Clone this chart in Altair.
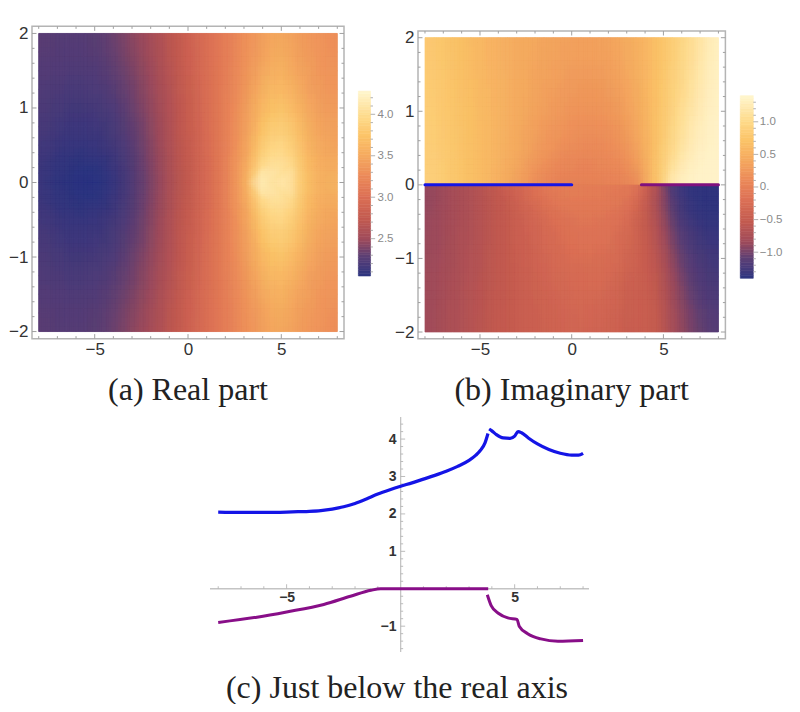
import altair as alt
import numpy as np
import pandas as pd

CAPTIONS = ["(a) Real part", "(b) Imaginary part", "(c) Just below the real axis"]

# heat-map cells: 32 columns, half-plane rows (the other half mirrors)
X_EDGES = [-8 + 0.5 * i for i in range(33)]
Y_EDGES = [0, 0.125, 0.25, 0.375, 0.5, 0.75, 1, 1.25, 1.5, 1.75, 2]

RE_ROWS = [
 [2.12,2.09,2.07,2.06,2.05,2.05,2.06,2.09,2.13,2.2,2.28,2.35,2.44,2.53,2.62,2.72,2.8,2.9,3.0,3.12,3.25,3.42,3.65,4.15,4.12,4.05,4.14,3.95,3.75,3.62,3.55,3.58],
 [2.13,2.10,2.08,2.07,2.06,2.06,2.07,2.10,2.14,2.21,2.28,2.36,2.45,2.54,2.63,2.72,2.8,2.9,3.0,3.12,3.25,3.41,3.6,3.95,4.05,4.06,4.04,3.92,3.72,3.61,3.55,3.55],
 [2.14,2.11,2.09,2.08,2.07,2.08,2.09,2.11,2.16,2.22,2.29,2.37,2.45,2.54,2.63,2.73,2.81,2.91,3.01,3.12,3.25,3.4,3.56,3.85,3.98,4.02,4.0,3.88,3.7,3.59,3.53,3.52],
 [2.15,2.13,2.11,2.10,2.09,2.10,2.11,2.13,2.17,2.23,2.30,2.37,2.46,2.55,2.64,2.73,2.82,2.92,3.01,3.12,3.24,3.38,3.53,3.8,3.93,3.98,3.95,3.84,3.68,3.57,3.51,3.5],
 [2.17,2.15,2.13,2.12,2.12,2.12,2.13,2.16,2.2,2.25,2.32,2.39,2.47,2.56,2.65,2.74,2.82,2.92,3.01,3.12,3.23,3.36,3.5,3.72,3.85,3.9,3.88,3.78,3.64,3.53,3.48,3.46],
 [2.2,2.18,2.16,2.15,2.15,2.15,2.17,2.19,2.23,2.29,2.35,2.41,2.49,2.58,2.66,2.75,2.84,2.93,3.02,3.12,3.22,3.34,3.47,3.62,3.74,3.79,3.77,3.68,3.57,3.48,3.44,3.42],
 [2.22,2.2,2.19,2.18,2.18,2.19,2.2,2.23,2.27,2.32,2.38,2.44,2.51,2.59,2.68,2.76,2.85,2.94,3.03,3.12,3.21,3.31,3.43,3.55,3.65,3.7,3.68,3.6,3.5,3.44,3.4,3.38],
 [2.24,2.23,2.22,2.21,2.21,2.22,2.24,2.26,2.3,2.35,2.4,2.46,2.53,2.61,2.69,2.78,2.87,2.95,3.03,3.11,3.2,3.29,3.39,3.48,3.58,3.62,3.6,3.53,3.46,3.4,3.37,3.35],
 [2.26,2.25,2.24,2.24,2.24,2.25,2.26,2.29,2.33,2.38,2.43,2.49,2.55,2.63,2.71,2.79,2.88,2.96,3.04,3.11,3.19,3.27,3.36,3.43,3.52,3.55,3.54,3.47,3.42,3.38,3.35,3.33],
 [2.28,2.27,2.26,2.26,2.26,2.27,2.29,2.32,2.36,2.41,2.46,2.51,2.58,2.65,2.73,2.8,2.89,2.97,3.04,3.11,3.18,3.25,3.33,3.4,3.47,3.49,3.48,3.44,3.39,3.36,3.33,3.31],
]
IM_ROWS = [
 [.88,.85,.8,.76,.72,.67,.61,.55,.48,.4,.32,.22,.14,.08,.04,.02,.02,.02,.03,.04,.05,.06,.08,.25,.6,.75,1.15,1.28,1.34,1.36,1.37,1.37],
 [.88,.85,.8,.76,.72,.67,.62,.56,.5,.43,.35,.26,.18,.12,.08,.06,.05,.05,.06,.07,.08,.1,.16,.32,.6,.78,1.08,1.22,1.3,1.35,1.37,1.37],
 [.87,.84,.8,.76,.72,.67,.62,.57,.51,.45,.38,.3,.23,.17,.12,.1,.08,.08,.08,.09,.11,.14,.22,.38,.6,.78,1.0,1.16,1.27,1.33,1.36,1.37],
 [.86,.84,.8,.76,.72,.67,.62,.57,.52,.46,.4,.33,.27,.21,.16,.13,.11,.1,.11,.12,.14,.18,.27,.42,.6,.78,.96,1.12,1.24,1.31,1.35,1.37],
 [.86,.83,.79,.75,.71,.67,.62,.57,.52,.47,.42,.36,.3,.25,.21,.17,.15,.14,.14,.15,.18,.23,.32,.45,.6,.76,.92,1.07,1.2,1.28,1.33,1.36],
 [.85,.82,.78,.74,.7,.66,.61,.57,.52,.48,.43,.38,.34,.29,.25,.22,.2,.19,.19,.2,.23,.29,.37,.48,.61,.75,.88,1.02,1.15,1.24,1.31,1.35],
 [.84,.81,.77,.73,.69,.65,.61,.56,.52,.48,.44,.4,.36,.32,.29,.26,.24,.23,.23,.25,.28,.33,.41,.5,.62,.74,.86,.98,1.1,1.2,1.28,1.34],
 [.83,.8,.76,.72,.68,.64,.6,.56,.52,.48,.45,.41,.38,.35,.32,.3,.28,.27,.27,.29,.32,.37,.44,.52,.62,.73,.84,.95,1.06,1.17,1.26,1.33],
 [.82,.79,.75,.71,.67,.63,.59,.55,.51,.48,.45,.42,.39,.37,.35,.33,.31,.31,.31,.33,.36,.4,.47,.54,.63,.72,.82,.93,1.04,1.14,1.24,1.32],
 [.81,.78,.74,.7,.66,.62,.58,.54,.51,.48,.45,.43,.41,.39,.37,.35,.34,.34,.35,.36,.39,.43,.49,.55,.63,.72,.81,.91,1.02,1.12,1.22,1.31],
]
# lower half-plane of (b), columns from x = 3.5 to x = 8
IM_LOWER_RIGHT = [
 [-.25,-.55,-.75,-1.1,-1.25,-1.33,-1.36,-1.37,-1.37],
 [-.35,-.58,-.78,-1.05,-1.22,-1.31,-1.35,-1.37,-1.37],
 [-.4,-.58,-.78,-1.02,-1.2,-1.3,-1.34,-1.36,-1.37],
 [-.44,-.58,-.76,-.99,-1.17,-1.27,-1.32,-1.35,-1.36],
 [-.46,-.56,-.72,-.93,-1.1,-1.22,-1.28,-1.32,-1.34],
 [-.44,-.52,-.66,-.86,-1.02,-1.14,-1.21,-1.26,-1.29],
 [-.43,-.5,-.62,-.8,-.95,-1.08,-1.16,-1.22,-1.25],
 [-.42,-.48,-.58,-.76,-.9,-1.03,-1.12,-1.18,-1.22],
 [-.42,-.46,-.56,-.72,-.87,-.98,-1.07,-1.14,-1.18],
 [-.42,-.45,-.54,-.7,-.84,-.94,-1.02,-1.09,-1.13],
]

# curves of panel (c)
BLUE_X1 = [-8,-7,-6,-5,-4.5,-4,-3.5,-3,-2.5,-2,-1.5,-1,-.5,0,.5,1,1.5,2,2.5,3,3.3,3.5,3.7,3.83]
BLUE_Y1 = [2.05,2.04,2.04,2.05,2.06,2.07,2.09,2.13,2.19,2.28,2.4,2.53,2.64,2.74,2.83,2.93,3.03,3.14,3.27,3.43,3.57,3.7,3.9,4.15]
BLUE_X2 = [3.88,4.0,4.2,4.5,4.8,5.0,5.15,5.3,5.6,6,6.5,7,7.5,7.8,8]
BLUE_Y2 = [4.27,4.22,4.12,4.03,4.02,4.08,4.2,4.17,4.03,3.87,3.72,3.62,3.57,3.57,3.62]
PURPLE_X1 = [-8,-6.3,-5,-3.37,-2.2,-1.3,-.88,3.84]
PURPLE_Y1 = [-.9,-.76,-.62,-.42,-.2,-.04,0,0]
PURPLE_X2 = [3.8,3.97,4.3,4.7,5.1,5.2,5.57,6.15,6.9,8]
PURPLE_Y2 = [-.16,-.45,-.66,-.78,-.82,-1.0,-1.2,-1.34,-1.4,-1.38]

# colour map
STOPS = [0,.05,.11,.2,.31,.43,.54,.65,.76,.87,1]
COLORS = ["#2b3480","#443a7b","#5d3f74","#9f4b5b","#c35a50","#dc7055","#ec8a59","#f5a95f","#fcc468","#fedc8e","#fff6cf"]
RE_RANGE = (2.05, 4.28)
IM_RANGE = (-1.4, 1.4)

FRAME_C = "#b4b4b4"
TICK_C = "#a0a0a0"
LABEL_C = "#333333"
SANS = "Liberation Sans"
SERIF = "Liberation Serif"
CAPTION_SIZE = 32
SHIFTS = [0.0, -0.25, 0.25, 0.125, -0.125, 0.375, -0.375]


def cscale(lo, hi):
    return alt.Scale(domain=[lo + t * (hi - lo) for t in STOPS], range=COLORS, interpolate="rgb")


def shifted(edges, s):
    out = list(edges)
    for i in range(1, len(edges) - 1):
        out[i] = edges[i] + s * (edges[i + 1] - edges[i - 1])
    return out


def heat_df(rows, lower, s):
    xe = shifted(X_EDGES, s)
    ye = shifted(Y_EDGES, s)
    recs = []
    for j, row in enumerate(rows):
        for i, v in enumerate(row):
            recs.append(dict(x0=xe[i], x1=xe[i + 1], y0=ye[j], y1=ye[j + 1], v=v))
            recs.append(dict(x0=xe[i], x1=xe[i + 1], y0=-ye[j], y1=-ye[j + 1], v=lower(j, i, v)))
    return pd.DataFrame(recs)


def lower_re(j, i, v):
    return v


def lower_im(j, i, v):
    return IM_LOWER_RIGHT[j][i - 23] if i >= 23 else -v


def frame_ticks(fx, fy, pxx, pxy):
    recs = []
    for t in range(-8, 9):
        ln = (4.5 if t % 5 == 0 else 2.5) / pxy
        recs += [dict(x0=t, x1=t, y0=-fy, y1=-fy + ln), dict(x0=t, x1=t, y0=fy, y1=fy - ln)]
    for k in range(-10, 11):
        t = k / 5
        ln = (4.5 if k % 5 == 0 else 2.5) / pxx
        recs += [dict(x0=-fx, x1=-fx + ln, y0=t, y1=t), dict(x0=fx, x1=fx - ln, y0=t, y1=t)]
    return recs


def panel(rows, lower, rng, xdom, ydom, fx, fy, w, h, pxx, pxy, caption, title_offset, extra=None):
    xs = alt.Scale(domain=xdom, nice=False, zero=False)
    ys = alt.Scale(domain=ydom, nice=False, zero=False)
    cs = cscale(*rng)
    xa = alt.Axis(values=[-5, 0, 5], ticks=False, domain=False, grid=False,
                  labelFont=SANS, labelFontSize=17, labelColor=LABEL_C, labelPadding=2)
    ya = alt.Axis(values=[-2, -1, 0, 1, 2], format="d", ticks=False, domain=False, grid=False,
                  labelFont=SANS, labelFontSize=17, labelColor=LABEL_C, labelPadding=4)
    X = lambda f: alt.X(f, scale=xs, title=None, axis=xa)
    Y = lambda f: alt.Y(f, scale=ys, title=None, axis=ya)
    layers = []
    for k, s in enumerate(SHIFTS):
        m = dict(strokeWidth=0.7) if k == 0 else dict(opacity=1.0 / (k + 1))
        e = dict(x=X("x0:Q"), x2="x1:Q", y=Y("y0:Q"), y2="y1:Q", color=alt.Color("v:Q", scale=cs, legend=None))
        if k == 0:
            e["stroke"] = alt.Stroke("v:Q", scale=cs, legend=None)
        layers.append(alt.Chart(heat_df(rows, lower, s)).mark_rect(**m).encode(**e))
    frame = alt.Chart(pd.DataFrame([dict(x0=-fx, x1=fx, y0=-fy, y1=fy)])).mark_rect(
        fill="transparent", stroke=FRAME_C, strokeWidth=1.5).encode(x=X("x0:Q"), x2="x1:Q", y=Y("y0:Q"), y2="y1:Q")
    ticks = alt.Chart(pd.DataFrame(frame_ticks(fx, fy, pxx, pxy))).mark_rule(color=TICK_C, strokeWidth=1).encode(
        x=X("x0:Q"), x2="x1:Q", y=Y("y0:Q"), y2="y1:Q")
    layers += [frame, ticks]
    if extra:
        layers += extra(X, Y)
    return alt.layer(*layers).properties(
        width=w, height=h,
        title=alt.TitleParams(caption, orient="bottom", anchor="middle", font=SERIF, fontSize=CAPTION_SIZE,
                              fontWeight="normal", color="#222222", offset=title_offset))


def cbar(rng, xdom, ydom, w, h, major, minor, label_expr, axis_offset):
    xs = alt.Scale(domain=xdom, nice=False, zero=False)
    ys = alt.Scale(domain=ydom, nice=False, zero=False)
    edges = np.linspace(rng[0], rng[1], 71)
    df = pd.DataFrame(dict(x0=0.0, x1=1.0, y0=edges[:-1], y1=edges[1:], v=(edges[:-1] + edges[1:]) / 2))
    cs = cscale(*rng)
    ya = alt.Axis(orient="right", offset=axis_offset, values=major, ticks=False,
                  domain=False, grid=False, labelExpr=label_expr, labelFont=SANS, labelFontSize=11.5,
                  labelColor="#8a8a8a", labelPadding=6)
    bar = alt.Chart(df).mark_rect(strokeWidth=0.6).encode(
        x=alt.X("x0:Q", scale=xs, axis=None), x2="x1:Q",
        y=alt.Y("y0:Q", scale=ys, title=None, axis=ya), y2="y1:Q",
        color=alt.Color("v:Q", scale=cs, legend=None),
        stroke=alt.Stroke("v:Q", scale=cs, legend=None),
    )
    recs = [dict(x0=1, x1=1.38, y0=t, y1=t) for t in major]
    recs += [dict(x0=1, x1=1.2, y0=t, y1=t) for t in minor]
    rules = alt.Chart(pd.DataFrame(recs)).mark_rule(color="#a8a8a8", strokeWidth=0.9).encode(
        x=alt.X("x0:Q", scale=xs, axis=None), x2="x1:Q",
        y=alt.Y("y0:Q", scale=ys, title=None, axis=ya), y2="y1:Q")
    return alt.layer(bar, rules).properties(width=w, height=h)


def line_marks(X, Y):
    seg1 = pd.DataFrame(dict(x=[-8, 0], y=[0, 0]))
    seg2 = pd.DataFrame(dict(x=[3.8, 8], y=[0, 0]))
    a = alt.Chart(seg1).mark_line(color="#1414e6", strokeWidth=3, strokeCap="round").encode(x=X("x:Q"), y=Y("y:Q"))
    b = alt.Chart(seg2).mark_line(color="#80107e", strokeWidth=3, strokeCap="round").encode(x=X("x:Q"), y=Y("y:Q"))
    return [a, b]


# panel (a)
pa = panel(RE_ROWS, lower_re, RE_RANGE, [-8.36, 8.36], [-2.1, 2.1], 8.36, 2.095, 312, 313, 18.67, 74.6, CAPTIONS[0], 18)
ca = cbar(RE_RANGE, [-1.18, 4.9], [1.29, 5.065], 74, 313,
          [2.5, 3.0, 3.5, 4.0],
          [2.1, 2.2, 2.3, 2.4, 2.6, 2.7, 2.8, 2.9, 3.1, 3.2, 3.3, 3.4, 3.6, 3.7, 3.8, 3.9, 4.1, 4.2],
          "format(datum.value, '.1f')", -47)
# panel (b)
pb = panel(IM_ROWS, lower_im, IM_RANGE, [-8.38, 8.38], [-2.095, 2.159], 8.38, 2.091, 307.4, 313, 18.33, 73.6, CAPTIONS[1], 18, extra=line_marks)
cb = cbar(IM_RANGE, [-1.1, 3.52], [-2.331, 2.469], 60, 313,
          [-1.0, -0.5, 0, 0.5, 1.0],
          [-1.3, -1.2, -1.1, -.9, -.8, -.7, -.6, -.4, -.3, -.2, -.1, .1, .2, .3, .4, .6, .7, .8, .9, 1.1, 1.2, 1.3],
          "datum.value === 0 ? '0.' : format(datum.value, '.1f')", -32.7)

# panel (c)
cx = alt.Scale(domain=[-8.36, 8.26], range=[178, 557], nice=False, zero=False)
cy = alt.Scale(domain=[-1.69, 4.59], nice=False, zero=False)
cxa = alt.Axis(values=[-5, 5], offset=-63.3, ticks=False, domain=False, grid=False,
               labelFont=SANS, labelFontSize=14, labelFontWeight="bold", labelColor=LABEL_C, labelPadding=2)
cya = alt.Axis(values=[-1, 1, 2, 3, 4], format="d", offset=-369, ticks=False, domain=False, grid=False,
               labelFont=SANS, labelFontSize=14, labelFontWeight="bold", labelColor=LABEL_C, labelPadding=5)
CX = lambda f: alt.X(f, scale=cx, title=None, axis=cxa)
CY = lambda f: alt.Y(f, scale=cy, title=None, axis=cya)
curve = pd.concat([
    pd.DataFrame(dict(x=BLUE_X1, y=BLUE_Y1, s="b1")),
    pd.DataFrame(dict(x=BLUE_X2, y=BLUE_Y2, s="b2")),
])
curve2 = pd.concat([
    pd.DataFrame(dict(x=PURPLE_X1, y=PURPLE_Y1, s="p1")),
    pd.DataFrame(dict(x=PURPLE_X2, y=PURPLE_Y2, s="p2")),
])
axes_recs = [dict(x0=-8.36, x1=8.26, y0=0, y1=0), dict(x0=0, x1=0, y0=-1.69, y1=4.59)]
tick_recs = []
for t in range(-8, 9):
    if t != 0:
        tick_recs.append(dict(x0=t, x1=t, y0=0, y1=(4.5 if t % 5 == 0 else 2.5) / 37.4))
for k in range(-8, 23):
    if k != 0:
        tick_recs.append(dict(x0=0, x1=(4.5 if k % 5 == 0 else 2.5) / 22.76, y0=k / 5, y1=k / 5))
c_base = alt.Chart(pd.DataFrame(axes_recs)).mark_rule(color="#c4c4c4", strokeWidth=1.3).encode(
    x=CX("x0:Q"), x2="x1:Q", y=CY("y0:Q"), y2="y1:Q")
c_ticks = alt.Chart(pd.DataFrame(tick_recs)).mark_rule(color="#b4b4b4", strokeWidth=0.9).encode(
    x=CX("x0:Q"), x2="x1:Q", y=CY("y0:Q"), y2="y1:Q")
c_blue = alt.Chart(curve).mark_line(color="#1414e6", strokeWidth=3.2, interpolate="monotone").encode(
    x=CX("x:Q"), y=CY("y:Q"), detail="s:N")
c_purple = alt.Chart(curve2).mark_line(color="#880e88", strokeWidth=3, interpolate="monotone").encode(
    x=CX("x:Q"), y=CY("y:Q"), detail="s:N")
pc = alt.layer(c_base, c_ticks, c_blue, c_purple).properties(
    width=312, height=235,
    title=alt.TitleParams(CAPTIONS[2], orient="bottom", anchor="middle", font=SERIF, fontSize=CAPTION_SIZE, fontWeight="normal",
                          color="#222222", offset=20, dx=209))

chart = alt.concat(pa, ca, pb, cb, pc, columns=4, spacing={"row": 78, "column": 0}, bounds="flush", align="none").resolve_scale(
    color="independent", stroke="independent"
).properties(
    padding={"left": 0, "top": 16, "right": 0, "bottom": 0}, background="white"
).configure_view(stroke=None)

chart.save("out.html", embed_options={"renderer": "svg", "actions": False})
